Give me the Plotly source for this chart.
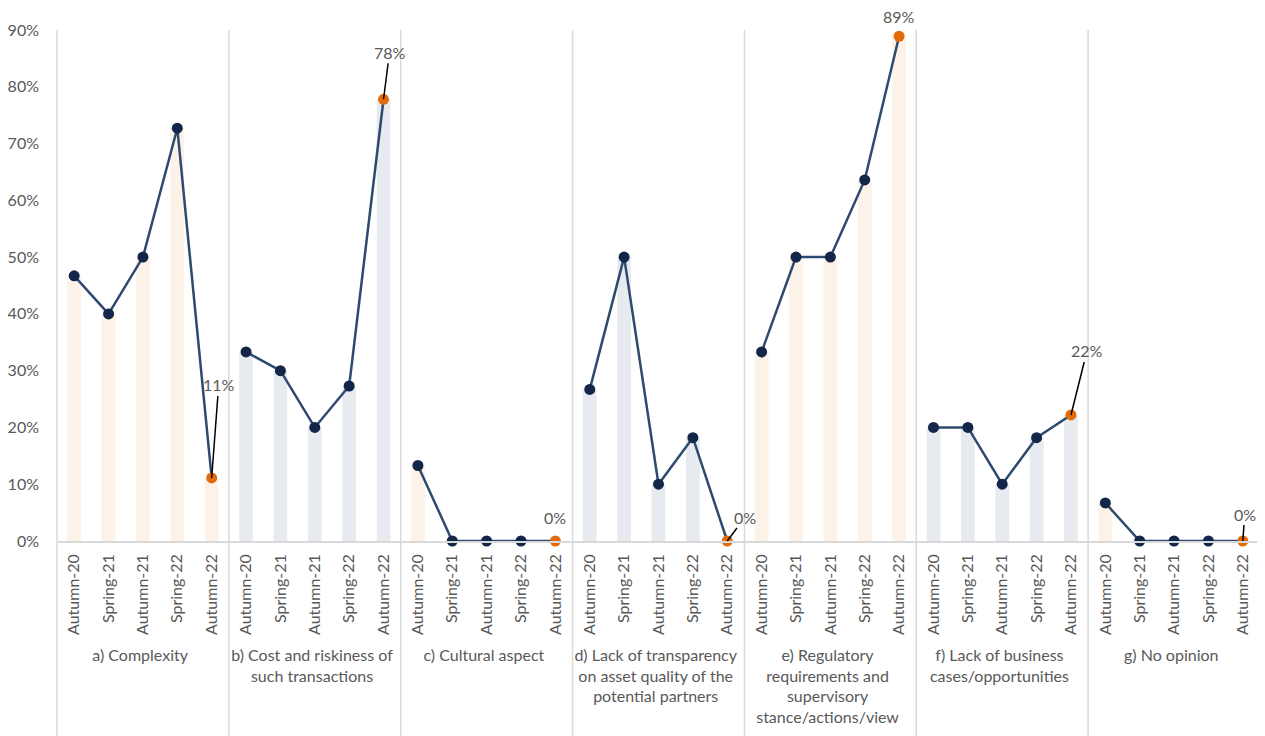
import plotly.graph_objects as go

groups = [
    "a) Complexity",
    "b) Cost and riskiness of<br>such transactions",
    "c) Cultural aspect",
    "d) Lack of transparency<br>on asset quality of the<br>potential partners",
    "e) Regulatory<br>requirements and<br>supervisory<br>stance/actions/view",
    "f) Lack of business<br>cases/opportunities",
    "g) No opinion",
]
periods = ["Autumn-20", "Spring-21", "Autumn-21", "Spring-22", "Autumn-22"]

# share of respondents, %
values = [
    [46.7, 40.0, 50.0, 72.7, 11.1],
    [33.3, 30.0, 20.0, 27.3, 77.8],
    [13.3, 0.0, 0.0, 0.0, 0.0],
    [26.7, 50.0, 10.0, 18.2, 0.0],
    [33.3, 50.0, 50.0, 63.6, 88.9],
    [20.0, 20.0, 10.0, 18.2, 22.2],
    [6.7, 0.0, 0.0, 0.0, 0.0],
]
last_labels = ["11%", "78%", "0%", "0%", "89%", "22%", "0%"]

bar_orange = "#FDF2E8"
bar_grey = "#E7EBEF"
line_col = "#2E4A70"
dot_col = "#13264A"
last_col = "#E36C0A"
txt_col = "#595959"
grid_col = "#D9D9D9"

fig = go.Figure()

# background bars
bx0, bx1, by, bc = [], [], [], []
for i, g in enumerate(groups):
    for p, v in zip(periods, values[i]):
        bx0.append(g)
        bx1.append(p)
        by.append(v)
        bc.append(bar_orange if i % 2 == 0 else bar_grey)
fig.add_trace(go.Bar(x=[bx0, bx1], y=by, marker=dict(color=bc, line_width=0),
                     width=0.4, showlegend=False, hoverinfo="skip"))

# one line per group so they don't join across groups
for i, g in enumerate(groups):
    fig.add_trace(go.Scatter(
        x=[[g] * 5, periods], y=values[i], mode="lines+markers",
        line=dict(color=line_col, width=2.5),
        marker=dict(size=11, color=[dot_col] * 4 + [last_col]),
        cliponaxis=False, showlegend=False,
    ))

# label offsets (pixels) for the last point of each group
offsets = [(7, -93, True), (6, -47, True), (0, 24, False), (18, -24, True),
           (0, 20, False), (16, -64, True), (2, -27, True)]
for i, g in enumerate(groups):
    ax, ay, arrow = offsets[i]
    if arrow:
        fig.add_annotation(x=4 + 5 * i, y=values[i][-1], text=last_labels[i],
                           showarrow=True, arrowhead=0, arrowwidth=1.5, arrowcolor="black",
                           ax=ax, ay=ay, standoff=0,
                           font=dict(size=16, color=txt_col))
    else:
        fig.add_annotation(x=4 + 5 * i, y=values[i][-1], text=last_labels[i],
                           showarrow=False, yshift=ay,
                           font=dict(size=16, color=txt_col))

# vertical separators between groups, running down through the labels
for k in range(8):
    fig.add_shape(type="line", xref="paper", yref="paper", x0=k / 7, x1=k / 7,
                  y0=-0.382, y1=1, line=dict(color=grid_col, width=1.5), layer="below")

# page body has an 8px margin, so the figure is 8px smaller than the window
fig.update_layout(
    width=1257, height=728,
    margin=dict(l=49, r=5, t=22, b=195),
    plot_bgcolor="white", paper_bgcolor="white",
    font=dict(family="Lato", size=16, color=txt_col),
    xaxis=dict(type="multicategory", tickangle=-90, showgrid=False,
               showline=True, linecolor=grid_col, linewidth=1.5,
               showdividers=False, ticks="", range=[-0.5, 34.5],
               ticklabelstandoff=5, automargin=False),
    yaxis=dict(range=[0, 90], dtick=10, ticksuffix="%", showgrid=False,
               zeroline=False, showline=False, ticklabelstandoff=17,
               automargin=False),
)

fig.write_html("out.html")
